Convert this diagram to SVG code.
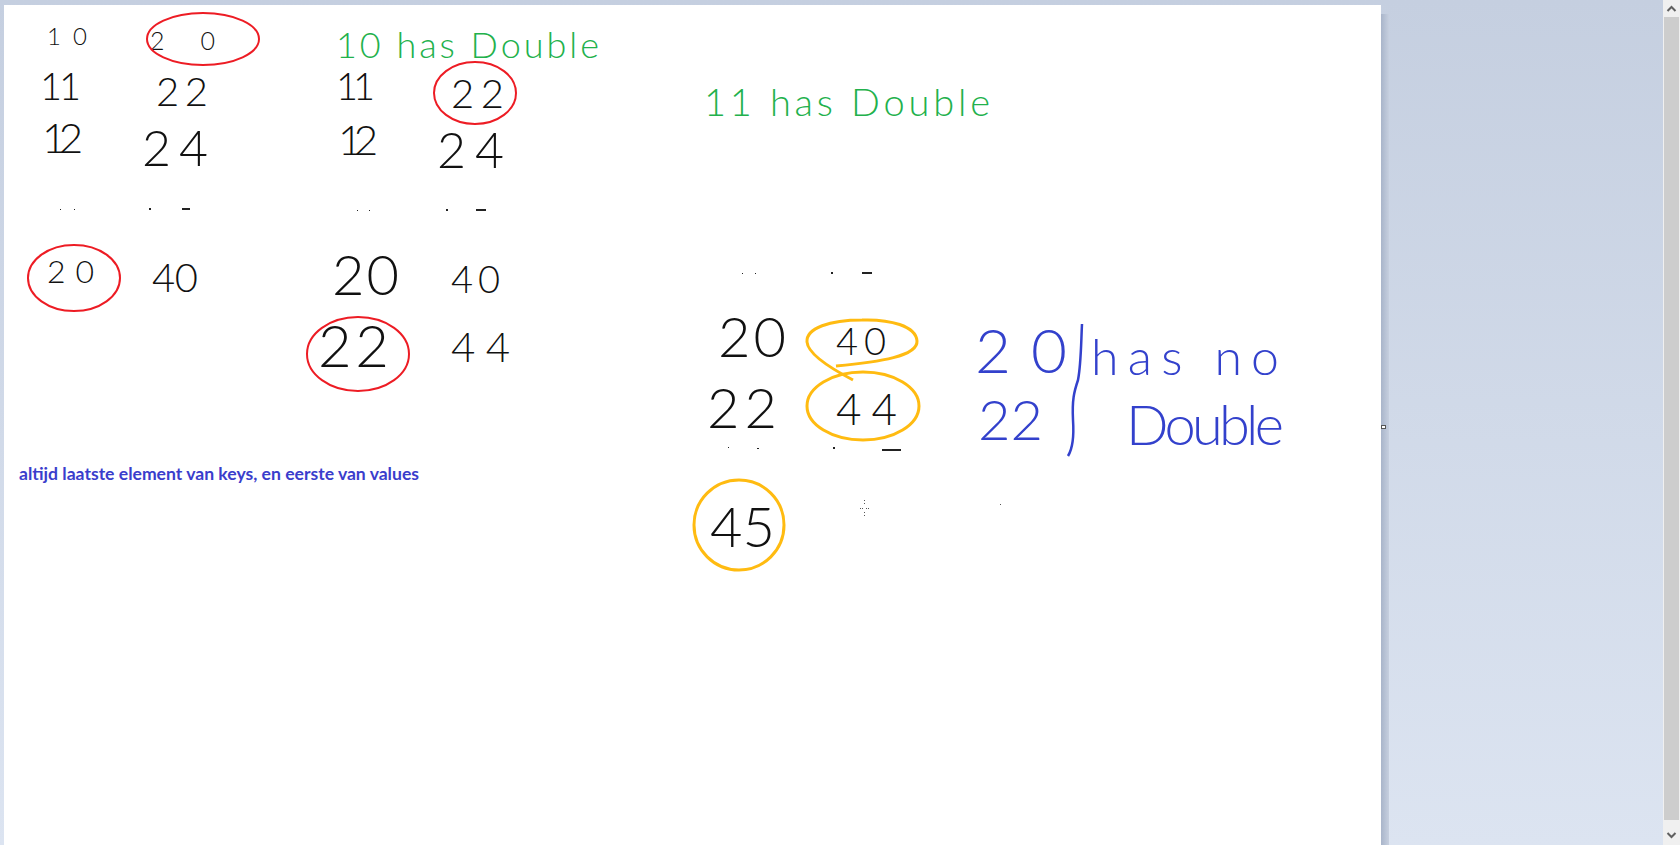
<svg xmlns="http://www.w3.org/2000/svg" width="1680" height="845" viewBox="0 0 1680 845">
<defs>
<linearGradient id="bg" x1="0" y1="0" x2="0" y2="1">
<stop offset="0" stop-color="#c5cfe0"/>
<stop offset="1" stop-color="#dce4f1"/>
</linearGradient>
<linearGradient id="shadow" x1="0" y1="0" x2="1" y2="0">
<stop offset="0" stop-color="#a9b5ca"/>
<stop offset="1" stop-color="#c6cfdf"/>
</linearGradient>
</defs>
<style>
.hw{font-family:Lato,"DejaVu Sans",sans-serif;font-weight:300;}
.k{fill:#111;}
.g{fill:#22b14c;}
.b{fill:#3341cc;}
.red{fill:none;stroke:#ed1c24;stroke-width:2;}
.org{fill:none;stroke:#ffbb11;stroke-width:3;}
.dot{fill:#222;}
.note{font-family:Lato,"Liberation Sans",sans-serif;font-weight:700;font-size:17px;fill:#3a3dcc;}
</style>
<rect x="0" y="0" width="1680" height="845" fill="url(#bg)"/>
<rect x="1381" y="14" width="8" height="831" fill="url(#shadow)"/>
<rect x="4" y="5" width="1377" height="840" fill="#ffffff"/>
<rect x="1381.5" y="425.5" width="4" height="3" fill="#fff" stroke="#555" stroke-width="1"/>
<g id="scrollbar">
<rect x="1663" y="0" width="17" height="845" fill="#f0f0f0"/>
<rect x="1664" y="17" width="15" height="803" fill="#cdcdcd"/>
<path d="M1667.5 11 L1671.5 7 L1675.5 11" fill="none" stroke="#606060" stroke-width="2"/>
<path d="M1667.5 833 L1671.5 837 L1675.5 833" fill="none" stroke="#606060" stroke-width="2"/>
</g>

<g id="table-left">
<text class="hw k" x="47" y="45" font-size="24" textLength="40" lengthAdjust="spacing">10</text>
<text class="hw k" x="150" y="50" font-size="25" textLength="65" lengthAdjust="spacing">20</text>
<text class="hw k" x="40" y="100" font-size="38" textLength="41" lengthAdjust="spacing">11</text>
<text class="hw k" x="156" y="106" font-size="40" textLength="52" lengthAdjust="spacing">22</text>
<text class="hw k" x="42" y="153" font-size="42" textLength="41" lengthAdjust="spacing">12</text>
<text class="hw k" x="142" y="166" font-size="50" textLength="66" lengthAdjust="spacing">24</text>
<text class="hw k" x="47" y="283" font-size="32" textLength="47" lengthAdjust="spacing">20</text>
<text class="hw k" x="152" y="292" font-size="40" textLength="46" lengthAdjust="spacing">40</text>
<rect class="dot" x="60" y="209" width="1" height="1"/>
<rect class="dot" x="74" y="209" width="1" height="1"/>
<rect class="dot" x="149" y="208" width="2" height="2"/>
<rect class="dot" x="182" y="208" width="8" height="2"/>
<ellipse class="red" cx="203" cy="39" rx="56" ry="26"/>
<ellipse class="red" cx="74" cy="278" rx="46" ry="33"/>
</g>

<g id="table-middle">
<text class="hw g" x="336" y="58" font-size="36" textLength="263" lengthAdjust="spacing">10 has Double</text>
<text class="hw k" x="336" y="100" font-size="38" textLength="39" lengthAdjust="spacing">11</text>
<text class="hw k" x="451" y="108" font-size="40" textLength="53" lengthAdjust="spacing">22</text>
<text class="hw k" x="338" y="155" font-size="42" textLength="40" lengthAdjust="spacing">12</text>
<text class="hw k" x="437" y="168" font-size="50" textLength="67" lengthAdjust="spacing">24</text>
<text class="hw k" x="332" y="295" font-size="56" textLength="67" lengthAdjust="spacing">20</text>
<text class="hw k" x="451" y="293" font-size="38" textLength="49" lengthAdjust="spacing">40</text>
<text class="hw k" x="318" y="367" font-size="58" textLength="71" lengthAdjust="spacing">22</text>
<text class="hw k" x="451" y="362" font-size="42" textLength="59" lengthAdjust="spacing">44</text>
<rect class="dot" x="357" y="210" width="1" height="1"/>
<rect class="dot" x="369" y="210" width="1" height="1"/>
<rect class="dot" x="446" y="209" width="2" height="2"/>
<rect class="dot" x="476" y="209" width="10" height="2"/>
<ellipse class="red" cx="475" cy="93" rx="41" ry="31"/>
<ellipse class="red" cx="358" cy="354" rx="51" ry="37"/>
</g>

<g id="table-right">
<text class="hw g" x="704" y="116" font-size="38" textLength="286" lengthAdjust="spacing">11 has Double</text>
<rect class="dot" x="742" y="273" width="1" height="1"/>
<rect class="dot" x="755" y="273" width="1" height="1"/>
<rect class="dot" x="831" y="272" width="2" height="2"/>
<rect class="dot" x="862" y="272" width="10" height="2"/>
<text class="hw k" x="718" y="357" font-size="56" textLength="68" lengthAdjust="spacing">20</text>
<text class="hw k" x="836" y="355" font-size="38" textLength="50" lengthAdjust="spacing">40</text>
<text class="hw k" x="707" y="428" font-size="56" textLength="70" lengthAdjust="spacing">22</text>
<text class="hw k" x="836" y="425" font-size="44" textLength="61" lengthAdjust="spacing">44</text>
<rect class="dot" x="728" y="447" width="1" height="1"/>
<rect class="dot" x="757" y="448" width="2" height="1"/>
<rect class="dot" x="833" y="447" width="2" height="2"/>
<rect class="dot" x="882" y="449" width="19" height="2"/>
<path class="org" d="M836 366 C880 362 918 356 917 341 C916 326 890 319 862 320 C830 320 806 328 807 342 C808 354 830 368 853 380"/>
<ellipse class="org" cx="863" cy="406" rx="56" ry="34"/>
<text class="hw k" x="710" y="547" font-size="56" textLength="65" lengthAdjust="spacing">45</text>
<ellipse class="org" cx="739" cy="525" rx="45" ry="45"/>
<g fill="#555">
<rect x="864" y="500" width="1" height="1"/>
<rect x="864" y="503" width="1" height="1"/>
<rect x="860" y="508" width="1" height="1"/>
<rect x="862" y="508" width="1" height="1"/>
<rect x="866" y="508" width="1" height="1"/>
<rect x="868" y="508" width="1" height="1"/>
<rect x="864" y="512" width="1" height="1"/>
<rect x="864" y="515" width="1" height="1"/>
<rect x="1000" y="504" width="1" height="1"/>
</g>
</g>

<g id="note-blue">
<text class="hw b" x="975" y="373" font-size="62" textLength="92" lengthAdjust="spacing">20</text>
<text class="hw b" x="1091" y="375" font-size="50" textLength="188" lengthAdjust="spacing">has no</text>
<text class="hw b" x="978" y="440" font-size="56" textLength="65" lengthAdjust="spacing">22</text>
<text class="hw b" x="1126" y="445" font-size="56" textLength="158" lengthAdjust="spacing">Double</text>
<path d="M1082 324 C1081 345 1081 365 1078 380 C1074 392 1072 400 1073 420 C1074 435 1073 448 1068 456" fill="none" stroke="#3341cc" stroke-width="2.5"/>
</g>

<text id="caption" class="note" x="19" y="480" textLength="400" lengthAdjust="spacingAndGlyphs">altijd laatste element van keys, en eerste van values</text>
</svg>
